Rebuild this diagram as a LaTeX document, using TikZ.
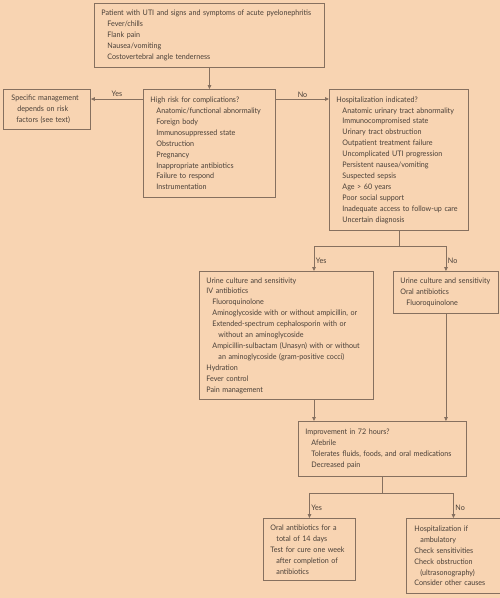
\documentclass[tikz,border=0pt]{standalone}
\usepackage{fontspec}
\setmainfont{Lato}[FakeStretch=0.94]
\usetikzlibrary{arrows.meta,calc}
\definecolor{bg}{HTML}{F8D4B2}
\definecolor{ln}{HTML}{86705F}
\definecolor{tx}{HTML}{4A4038}
\newcommand{\indA}{\hspace*{6pt}}
\newcommand{\indB}{\hspace*{12pt}}
\begin{document}
\begin{tikzpicture}[x=1pt,y=-1pt,
 box/.style={draw=ln, line width=0.9pt, align=left, inner xsep=7pt, inner ysep=0pt, anchor=north west, text=tx, font=\fontsize{7.6}{10.9}\selectfont},
 arr/.style={draw=ln, line width=0.9pt, -{Triangle[length=4pt,width=3.6pt]}},
 conn/.style={draw=ln, line width=0.9pt},
 lab/.style={text=tx, font=\fontsize{7.6}{9}\selectfont, inner sep=1.5pt}]
\fill[bg] (0,0) rectangle (500,598);
\useasboundingbox (0,0) rectangle (500,598);

\node[box, text width=216pt, minimum height=64pt] (top) at (94,3) {Patient with UTI and signs and symptoms of acute pyelonephritis\\
\indA Fever/chills\\ \indA Flank pain\\ \indA Nausea/vomiting\\ \indA Costovertebral angle tenderness};

\node[box, text width=71pt, minimum height=40pt, inner xsep=8pt] (spec) at (3,89) {Specific management\\ \indA depends on risk\\ \hspace*{5pt}factors (see text)};

\node[box, text width=118pt, minimum height=108pt] (risk) at (143,89) {High risk for complications?\\ \indA Anatomic/functional abnormality\\ \indA Foreign body\\ \indA Immunosuppressed state\\ \indA Obstruction\\ \indA Pregnancy\\ \indA Inappropriate antibiotics\\ \indA Failure to respond\\ \indA Instrumentation};

\node[box, text width=125pt, minimum height=141pt] (hosp) at (329,89) {Hospitalization indicated?\\ \indA Anatomic urinary tract abnormality\\ \indA Immunocompromised state\\ \indA Urinary tract obstruction\\ \indA Outpatient treatment failure\\ \indA Uncomplicated UTI progression\\ \indA Persistent nausea/vomiting\\ \indA Suspected sepsis\\ \indA Age > 60 years\\ \indA Poor social support\\ \indA Inadequate access to follow-up care\\ \indA Uncertain diagnosis};

\node[box, text width=160pt, minimum height=128pt] (iv) at (199,271) {Urine culture and sensitivity\\ IV antibiotics\\ \indA Fluoroquinolone\\ \indA Aminoglycoside with or without ampicillin, or\\ \indA Extended-spectrum cephalosporin with or\\ \indB without an aminoglycoside\\ \indA Ampicillin-sulbactam (Unasyn) with or without\\ \indB an aminoglycoside (gram-positive cocci)\\ Hydration\\ Fever control\\ Pain management};

\node[box, text width=91pt, minimum height=42pt] (oral) at (393,271) {Urine culture and sensitivity\\ Oral antibiotics\\ \indA Fluoroquinolone};

\node[box, text width=154pt, minimum height=55pt] (impr) at (298,421) {Improvement in 72 hours?\\ \indA Afebrile\\ \indA Tolerates fluids, foods, and oral medications\\ \indA Decreased pain};

\node[box, text width=78pt, minimum height=62pt] (yes14) at (263,518) {Oral antibiotics for a\\ \indA total of 14 days\\ Test for cure one week\\ \indA after completion of\\ \indA antibiotics};

\node[box, text width=78pt, minimum height=75pt, inner xsep=8pt] (nohosp) at (406,518) {Hospitalization if\\ \indA ambulatory\\ Check sensitivities\\ Check obstruction\\ \indA (ultrasonography)\\ Consider other causes};

% connectors
\draw[arr] (top.south) -- (risk.north);
\draw[arr] ([yshift=-10pt]risk.north west) -- node[lab, above] (lyes1) {Yes} ([yshift=-10pt]spec.north east);
\draw[arr] ([yshift=-10pt]risk.north east) -- node[lab, above] (lno1) {No} ([yshift=-10pt]hosp.north west);

\draw[conn] (hosp.south) -- ++(0,16) coordinate (j1);
\draw[arr] (j1) -| node[lab, pos=0.78, right] (lyes2) {Yes} ([xshift=115pt]iv.north west);
\draw[arr] (j1) -| node[lab, pos=0.78, right] (lno2) {No} (oral.north);

\draw[arr] ([xshift=115pt]iv.south west) -- ([xshift=115pt]iv.south west |- impr.north);
\draw[arr] (oral.south) -- (oral.south |- impr.north);

\draw[conn] (impr.south) -- ++(0,17) coordinate (j2);
\draw[arr] (j2) -| node[lab, pos=0.78, right] (lyes3) {Yes} (yes14.north);
\draw[arr] (j2) -| node[lab, pos=0.78, right] (lno3) {No} (nohosp.north);
\end{tikzpicture}
\end{document}
